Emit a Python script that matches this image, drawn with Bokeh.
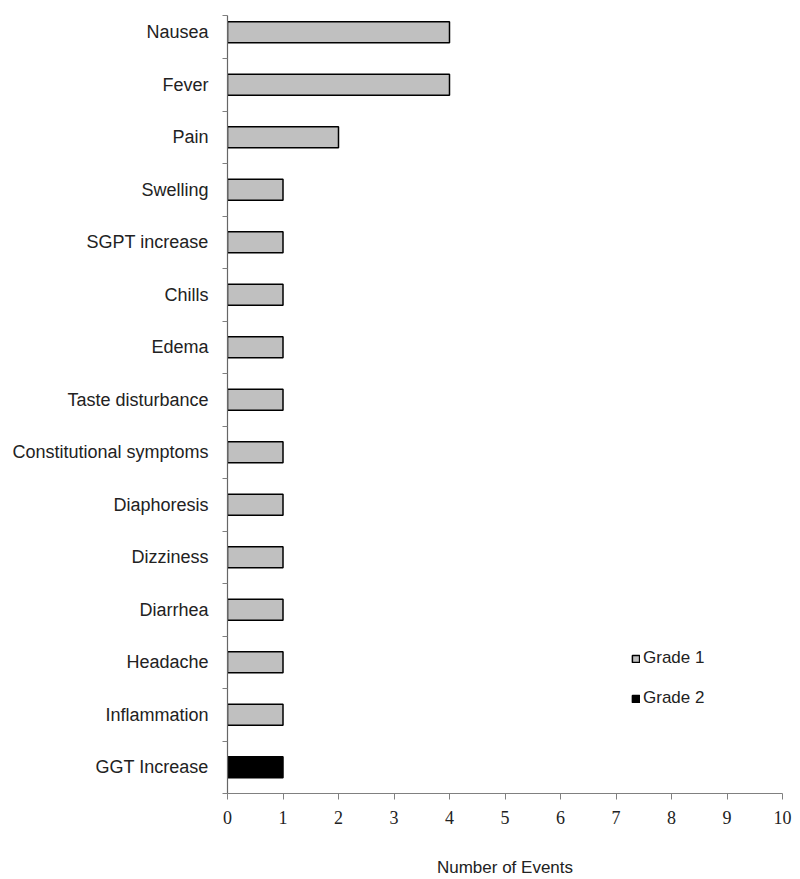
from bokeh.plotting import figure
from bokeh.models import FixedTicker, Legend, LegendItem, ColumnDataSource, Range1d
from bokeh.embed import file_html
from bokeh.resources import INLINE

# Data (top to bottom as in the chart)
events = ["Nausea", "Fever", "Pain", "Swelling", "SGPT increase", "Chills", "Edema",
          "Taste disturbance", "Constitutional symptoms", "Diaphoresis", "Dizziness",
          "Diarrhea", "Headache", "Inflammation", "GGT Increase"]
counts = [4, 4, 2, 1, 1, 1, 1, 1, 1, 1, 1, 1, 1, 1, 1]
grades = ["Grade 1"] * 14 + ["Grade 2"]
x_ticks = list(range(0, 11))

n = len(events)
pos = [n - 1 - i for i in range(n)]  # bottom category at 0

g1 = [i for i in range(n) if grades[i] == "Grade 1"]
g2 = [i for i in range(n) if grades[i] == "Grade 2"]
src1 = ColumnDataSource(dict(y=[pos[i] for i in g1], right=[counts[i] for i in g1]))
src2 = ColumnDataSource(dict(y=[pos[i] for i in g2], right=[counts[i] for i in g2]))

p = figure(width=800, height=879, output_backend="svg", toolbar_location=None,
           x_range=Range1d(0, 10), y_range=Range1d(-0.5, n - 0.68),
           min_border_left=227, min_border_right=18, min_border_top=15, min_border_bottom=86)

r1 = p.hbar(y="y", right="right", left=0, height=0.4, source=src1,
            fill_color="#c0c0c0", line_color="black", line_width=1.5)
r2 = p.hbar(y="y", right="right", left=0, height=0.4, source=src2,
            fill_color="black", line_color="black", line_width=1.5)

p.xgrid.visible = False
p.ygrid.visible = False
p.outline_line_color = None

# x axis
p.xaxis.ticker = FixedTicker(ticks=x_ticks)
p.xaxis.major_label_text_font = "Liberation Serif"
p.xaxis.major_label_text_font_size = "18px"
p.xaxis.major_label_text_color = "#222222"
p.xaxis.major_tick_out = 6
p.xaxis.major_tick_in = 0
p.xaxis.minor_tick_out = 0
p.xaxis.minor_tick_in = 0
p.xaxis.axis_line_color = "#808080"
p.xaxis.axis_line_width = 1.2
p.xaxis.major_tick_line_color = "#808080"
p.xaxis.axis_label = "Number of Events"
p.xaxis.axis_label_text_font = "Liberation Sans"
p.xaxis.axis_label_text_font_style = "normal"
p.xaxis.axis_label_text_font_size = "17px"
p.xaxis.axis_label_text_color = "#222222"
p.xaxis.axis_label_standoff = 31
p.xaxis.major_label_standoff = 11

# y axis: labels at centres, ticks at boundaries
boundaries = [k - 0.5 for k in range(n)] + [n - 0.68]
p.yaxis.ticker = FixedTicker(ticks=pos, minor_ticks=boundaries)
p.yaxis.major_label_overrides = {pos[i]: events[i] for i in range(n)}
p.yaxis.major_label_text_font = "Liberation Sans"
p.yaxis.major_label_text_font_size = "18px"
p.yaxis.major_label_text_color = "#222222"
p.yaxis.major_tick_out = 0
p.yaxis.major_tick_in = 0
p.yaxis.minor_tick_out = 5
p.yaxis.minor_tick_in = 0
p.yaxis.major_label_standoff = 14
p.yaxis.axis_line_color = "#666666"
p.yaxis.axis_line_width = 1.2
p.yaxis.minor_tick_line_color = "#808080"

legend = Legend(items=[LegendItem(label="Grade 1", renderers=[r1]),
                       LegendItem(label="Grade 2", renderers=[r2])],
                location=(404, 85), orientation="vertical")
legend.glyph_width = 9
legend.glyph_height = 9
legend.label_height = 12
legend.label_standoff = 3
legend.spacing = 20
legend.padding = 0
legend.margin = 0
legend.border_line_color = None
legend.background_fill_alpha = 0
legend.label_text_font = "Liberation Sans"
legend.label_text_font_size = "17px"
legend.label_text_color = "#222222"
p.add_layout(legend)

open("out.html", "w").write(file_html(p, INLINE))
